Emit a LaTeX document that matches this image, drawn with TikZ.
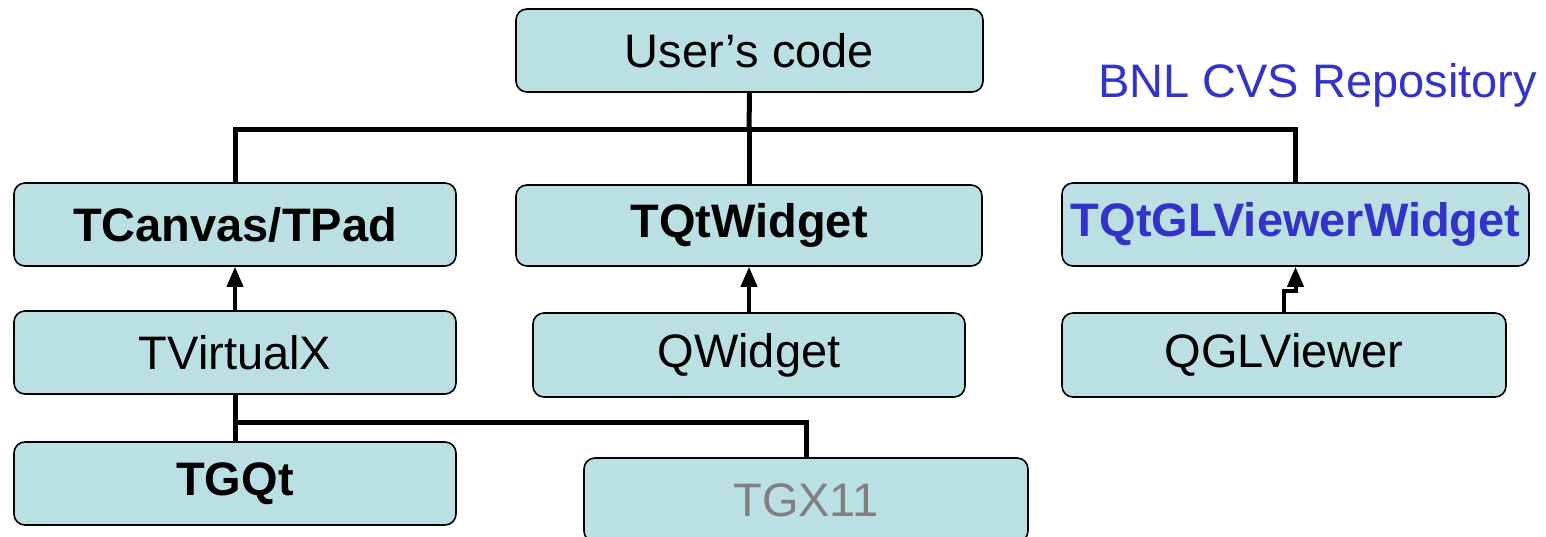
\documentclass[tikz,border=0pt]{standalone}
\usepackage{fontspec}
\setmainfont{Liberation Sans}
\usetikzlibrary{arrows.meta}
\definecolor{boxfill}{HTML}{BBE0E3}
\definecolor{repoblue}{HTML}{3333CC}
\definecolor{greytext}{HTML}{808080}
\tikzset{
  box/.style={draw=black, line width=1.6pt, fill=boxfill, rounded corners=11pt,
    inner sep=0pt, font=\fontsize{47}{56}\selectfont},
  bus/.style={draw=black, line width=5pt},
  inherit/.style={draw=black, line width=4pt, -{Triangle[width=16pt,length=20pt]}},
}
\begin{document}
\begin{tikzpicture}[x=1pt, y=-1pt]
  \useasboundingbox (0,0) rectangle (1546,537);

  % class boxes
  \node[box, minimum width=467pt, minimum height=83pt] (user)    at (749.5,50.5) {User’s code};
  \node[box, minimum width=442pt, minimum height=83pt] (tcanvas) at (235,224.5) {\bfseries TCanvas/TPad};
  \node[box, minimum width=466pt, minimum height=81pt] (tqtw)    at (749,225.5) {\bfseries TQtWidget};
  \node[box, minimum width=467pt, minimum height=83pt] (tqtgl)   at (1295.5,224.5) {\bfseries\color{repoblue}TQtGLViewerWidget};
  \node[box, minimum width=442pt, minimum height=83pt] (tvx)     at (235,352.5) {TVirtualX};
  \node[box, minimum width=432pt, minimum height=84pt] (qw)      at (749,355) {QWidget};
  \node[box, minimum width=444pt, minimum height=84pt] (qgl)     at (1284,355) {QGLViewer};
  \node[box, minimum width=442pt, minimum height=83pt] (tgqt)    at (235,483.5) {\bfseries TGQt};
  \node[box, minimum width=444pt, minimum height=84pt] (tgx11)   at (806,500) {\color{greytext}TGX11};

  % repository label
  \node[anchor=base west, inner sep=0pt, text=repoblue, font=\fontsize{47}{56}\selectfont]
    (repo) at (1098,98) {BNL CVS Repository};

  % user code bus
  \coordinate (j1) at (749,130);
  \draw[bus] (user.south) -- (j1);
  \draw[bus] (tcanvas.north) |- (tqtgl.north |- j1) -- (tqtgl.north);
  \draw[bus] (j1) -- (tqtw.north);

  % inheritance arrows
  \draw[inherit] (tvx.north) -- (tcanvas.south);
  \draw[inherit] (qw.north) -- (tqtw.south);
  \draw[inherit] (qgl.north) -- ++(0,-21) -| (tqtgl.south);

  % TVirtualX implementations
  \coordinate (j2) at (235,422);
  \draw[bus] (tvx.south) -- (tgqt.north);
  \draw[bus] (j2) -| (tgx11.north);
\end{tikzpicture}
\end{document}
